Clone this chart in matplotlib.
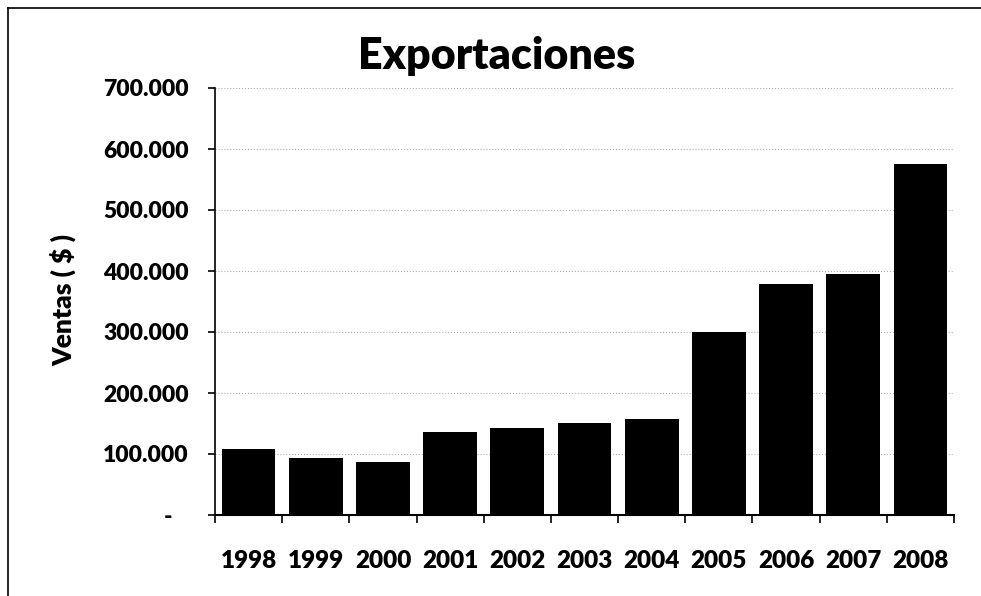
import matplotlib
matplotlib.use("Agg")
import matplotlib.pyplot as plt
from matplotlib.lines import Line2D

years = ["1998", "1999", "2000", "2001", "2002", "2003", "2004", "2005", "2006", "2007", "2008"]
ventas = [108000, 93000, 87000, 136000, 143000, 151000, 157000, 300000, 379000, 395000, 575000]
y_ticks = [0, 100000, 200000, 300000, 400000, 500000, 600000, 700000]
y_tick_labels = ["-   ", "100.000", "200.000", "300.000", "400.000", "500.000", "600.000", "700.000"]
title = "Exportaciones"
ylabel = "Ventas ( $ )"

plt.rcParams['font.family'] = ['Lato', 'DejaVu Sans']
W = 'heavy'

fig = plt.figure(figsize=(9.81, 5.96), dpi=100)
ax = fig.add_axes([215/981, 1-515/596, (954-215)/981, (515-88)/596])

x = list(range(len(years)))
ax.bar(x, ventas, width=0.8, color="black", zorder=3)
ax.set_xlim(-0.5, len(years) - 0.5)
ax.set_ylim(0, 700000)
ax.set_yticks(y_ticks)
ax.set_yticklabels(y_tick_labels, fontsize=16.5, fontweight=W)
ax.set_xticks(x)
ax.set_xticklabels(years, fontsize=17.5, fontweight=W)
ax.set_xticks([i - 0.5 for i in range(len(years) + 1)], minor=True)
ax.tick_params(axis='x', which='major', length=0, pad=25)
ax.tick_params(axis='x', which='minor', length=6, width=1.2, direction='out', color='black')
ax.tick_params(axis='y', length=5, width=1.2, pad=14, color='black')

ax.grid(axis='y', linestyle=':', color='#b0b0b0', linewidth=0.8, zorder=0)
for s in ['top', 'right']:
    ax.spines[s].set_visible(False)
ax.spines['left'].set_linewidth(1.2)
ax.spines['bottom'].set_linewidth(1.5)

fig.text(497/981, 1-56/596, title, fontsize=31, fontweight=W, ha='center', va='center')
fig.text(63/981, 1-300/596, ylabel, fontsize=19, fontweight=W, ha='center', va='center', rotation=90)

fig.add_artist(Line2D([8/981, 8/981], [0, 1-8/596], transform=fig.transFigure, color='black', linewidth=1.2))
fig.add_artist(Line2D([8/981, 1], [1-8/596, 1-8/596], transform=fig.transFigure, color='black', linewidth=1.2))

fig.savefig("out.png", dpi=100)
